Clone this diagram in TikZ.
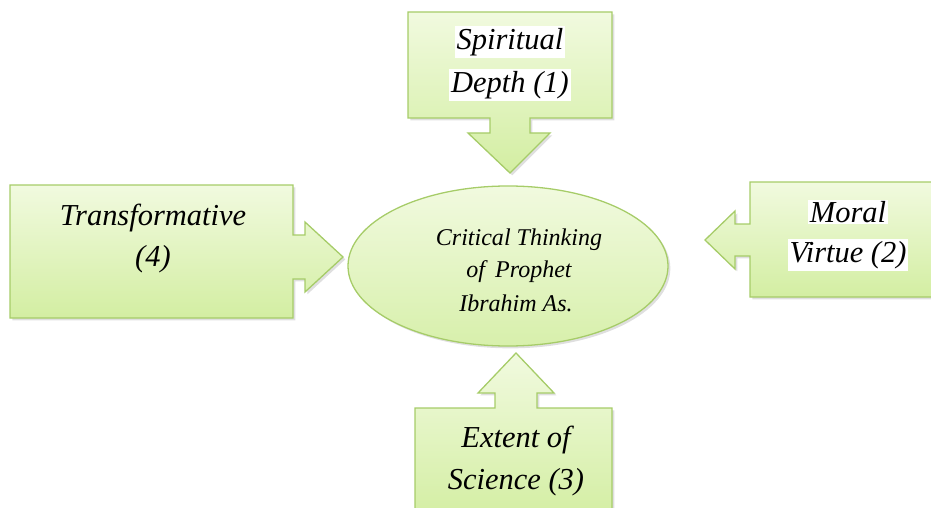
\documentclass[tikz,border=0pt]{standalone}
\usepackage{fontspec}
\setmainfont{LiberationSerif}[Extension=.ttf, UprightFont=*-Regular, ItalicFont=*-Italic,
  BoldFont=*-Bold, BoldItalicFont=*-BoldItalic]
\usepackage{tikz}
\usetikzlibrary{shapes.geometric,shadows}

\definecolor{verdeclaro}{HTML}{F1FADF}
\definecolor{verdeoscuro}{HTML}{D3EEA2}
\definecolor{borde}{HTML}{A6CC68}

\tikzset{
  globo/.style={draw=borde, line width=1.1pt, line join=miter,
    top color=verdeclaro, bottom color=verdeoscuro,
    drop shadow={opacity=0.25, shadow xshift=2pt, shadow yshift=-2pt}},
  texto/.style={font=\fontsize{26}{30}\selectfont\itshape, inner sep=1.5pt},
  resaltado/.style={texto, fill=white},
  centro/.style={ellipse, draw=borde, line width=1.1pt,
    top color=verdeclaro, bottom color=verdeoscuro!90,
    minimum width=9.6cm, minimum height=4.8cm,
    drop shadow={opacity=0.25, shadow xshift=2pt, shadow yshift=-2pt}},
  textocentro/.style={font=\fontsize{20.5}{24}\selectfont\itshape, inner sep=1pt}
}

\begin{document}
\begin{tikzpicture}[x=0.03cm, y=-0.03cm]
				\useasboundingbox (0,0) rectangle (931,508);
				% Globos con flecha
				\path[globo] (408,12) -- (612,12) -- (612,118) -- (530,118) -- (530,133) -- (550,133)
				  -- (510,173) -- (468,133) -- (490,133) -- (490,118) -- (408,118) -- cycle;
				\path[globo] (10,185) -- (293,185) -- (293,235) -- (305,235) -- (305,222) -- (343,257)
				  -- (305,292) -- (305,279) -- (293,279) -- (293,318) -- (10,318) -- cycle;
				\path[globo] (750,182) -- (940,182) -- (940,297) -- (750,297) -- (750,256) -- (735,256)
				  -- (735,269) -- (705,240) -- (735,211) -- (735,224) -- (750,224) -- cycle;
				\path[globo] (415,408) -- (495,408) -- (495,393) -- (478,393) -- (516,353) -- (554,393)
				  -- (537,393) -- (537,408) -- (612,408) -- (612,520) -- (415,520) -- cycle;

				% Elipse central
				\node[centro] (ctp) at (508,266) {};
				\node[textocentro] (ctp1) at (519,240) {Critical Thinking};
				\node[textocentro] (ctp2) at (519,272) {of\, Prophet};
				\node[textocentro] (ctp3) at (516,303) {Ibrahim As.};

				% Textos
				\node[resaltado] (esp1) at (510,42) {Spiritual};
				\node[resaltado] (esp2) at (510,85) {Depth (1)};
				\node[resaltado] (mor1) at (848,212) {Moral};
				\node[resaltado] (mor2) at (848,255) {Virtue (2)};
				\node[texto] (tra1) at (153,218) {Transformative};
				\node[texto] (tra2) at (153,259) {(4)};
				\node[texto] (ext1) at (516,440) {Extent of};
				\node[texto] (ext2) at (516,482) {Science (3)};


			\end{tikzpicture}
\end{document}
